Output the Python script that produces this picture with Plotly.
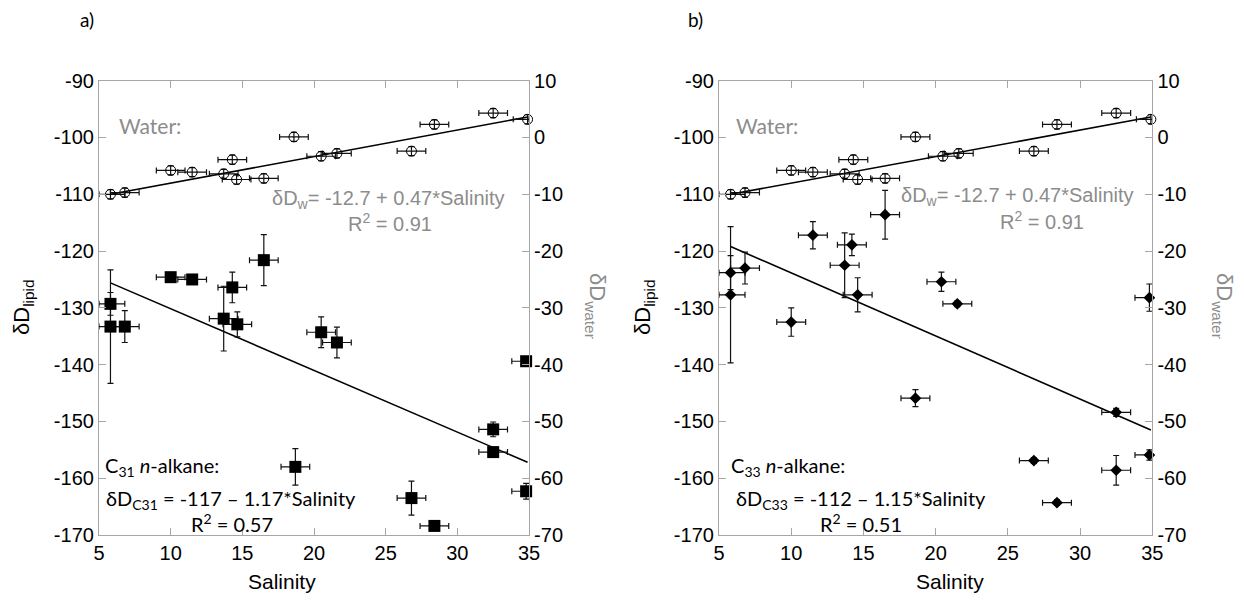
import plotly.graph_objects as go

# ---------------- data ----------------
# water samples (shared by both panels), right axis (dD water)
water_sal = [5.8, 6.8, 10.0, 11.5, 13.7, 14.3, 14.6, 16.5, 18.6, 20.5, 21.6, 26.8, 28.4, 32.5, 34.9]
water_dd = [-10.0, -9.7, -5.8, -6.1, -6.4, -3.9, -7.4, -7.2, 0.1, -3.3, -2.8, -2.4, 2.3, 4.3, 3.2]
water_err = [0.8] * 15
sal_err = 1.0

# water regression line endpoints (dD water)
water_fit_sal = [5.8, 34.9]
water_fit_dd = [-10.0, 3.6]

# C31 n-alkane (panel a), left axis (dD lipid)
c31_sal = [5.8, 5.8, 6.8, 10.0, 11.5, 13.7, 14.3, 14.65, 16.5, 18.7, 20.5, 21.6, 26.8, 28.4, 32.5, 32.5, 34.8, 34.8]
c31_dd = [-129.3, -133.3, -133.3, -124.6, -125.0, -131.9, -126.4, -132.9, -121.6, -158.0, -134.3, -136.1, -163.5, -168.4, -151.4, -155.4, -139.4, -162.3]
c31_err = [2.0, 10.0, 2.8, 0.5, 0.8, 5.7, 2.7, 2.2, 4.5, 3.2, 2.7, 2.7, 3.0, 0.5, 1.3, 0.8, 0.5, 1.4]
c31_fit_sal = [5.8, 34.9]
c31_fit_dd = [-125.6, -157.2]

# C33 n-alkane (panel b)
c33_sal = [5.8, 5.8, 6.8, 10.0, 11.5, 13.7, 14.2, 14.6, 16.5, 18.6, 20.4, 21.5, 26.8, 28.4, 32.5, 32.5, 34.8, 34.8]
c33_dd = [-123.8, -127.7, -123.0, -132.5, -117.2, -122.5, -118.9, -127.7, -113.6, -145.9, -125.4, -129.3, -156.9, -164.3, -148.4, -158.6, -128.2, -155.9]
c33_err = [3.0, 12.0, 2.8, 2.5, 2.4, 5.7, 1.9, 3.0, 4.3, 1.5, 1.7, 0.5, 0.5, 0.5, 0.7, 2.6, 2.4, 0.9]
c33_fit_sal = [5.8, 34.9]
c33_fit_dd = [-119.2, -151.5]

x_ticks = [5, 10, 15, 20, 25, 30, 35]
lipid_ticks = [-170, -160, -150, -140, -130, -120, -110, -100, -90]
water_ticks = [-70, -60, -50, -40, -30, -20, -10, 0, 10]
x_range = [5, 35]
lipid_range = [-170, -90]
water_range = [-70, 10]

# ---------------- styling ----------------
PAGE_W, PAGE_H = 1244, 606
OFF = 8  # default body margin of the html page
W, H = PAGE_W - 2 * OFF, PAGE_H - 2 * OFF
ARIAL = "Liberation Sans"
CAL = "Lato"
GRAY_TXT = "#8c8c8c"
AXIS_GRAY = "#a6a6a6"


def px(x):
    return (x - OFF) / W


def py(y):
    return 1 - (y - OFF) / H


def xerr_clipped(sal):
    # salinity error bars are cut at the frame, while markers are not
    plus = [min(sal_err, x_range[1] - s) for s in sal]
    minus = [min(sal_err, s - x_range[0]) for s in sal]
    return plus, minus


fig = go.Figure()

err_style = dict(color="#111111", thickness=1.2, width=3)


def add_points(sal, dd, derr, marker, xa, ya):
    plus, minus = xerr_clipped(sal)
    fig.add_trace(go.Scatter(x=sal, y=dd, mode="markers", marker=marker, cliponaxis=False,
                             error_x=dict(type="data", array=plus, arrayminus=minus,
                                          symmetric=False, **err_style),
                             error_y=dict(type="data", array=derr, **err_style),
                             xaxis=xa, yaxis=ya, showlegend=False))


def add_panel(xa, ya, yw, sal, dd, derr, fit_sal, fit_dd, symbol, msize):
    fig.add_trace(go.Scatter(x=water_fit_sal, y=water_fit_dd, mode="lines",
                             line=dict(color="black", width=1.6),
                             xaxis=xa, yaxis=yw, showlegend=False, hoverinfo="skip"))
    add_points(water_sal, water_dd, water_err,
               dict(symbol="circle-open", size=10, color="black", line=dict(width=1)), xa, yw)
    fig.add_trace(go.Scatter(x=fit_sal, y=fit_dd, mode="lines",
                             line=dict(color="black", width=1.6),
                             xaxis=xa, yaxis=ya, showlegend=False, hoverinfo="skip"))
    add_points(sal, dd, derr, dict(symbol=symbol, size=msize, color="black"), xa, ya)


add_panel("x", "y", "y2", c31_sal, c31_dd, c31_err, c31_fit_sal, c31_fit_dd, "square", 12)
add_panel("x2", "y3", "y4", c33_sal, c33_dd, c33_err, c33_fit_sal, c33_fit_dd, "diamond", 9)

tick_font = dict(family=ARIAL, size=20, color="black")
common_axis = dict(showgrid=False, zeroline=False, showline=True, linecolor=AXIS_GRAY,
                   linewidth=1.2, ticks="inside", ticklen=7, tickcolor=AXIS_GRAY,
                   tickwidth=1, tickfont=tick_font, automargin=False)

lipid_text = [str(v) for v in lipid_ticks]
water_text = [str(v) for v in water_ticks]
x_text = [str(v) for v in x_ticks]

ydom = [py(535), py(80.7)]
xdom_a = [px(99), px(529)]
xdom_b = [px(719), px(1152.3)]

xa_cfg = dict(range=x_range, tickvals=x_ticks, ticktext=x_text, mirror="ticks", **common_axis)
yl_cfg = dict(domain=ydom, range=lipid_range, tickvals=lipid_ticks, ticktext=lipid_text, **common_axis)
yw_cfg = dict(range=water_range, tickvals=water_ticks, ticktext=water_text, side="right", **common_axis)

fig.update_layout(
    template="none",
    width=W, height=H,
    margin=dict(l=0, r=0, t=0, b=0, autoexpand=False),
    paper_bgcolor="white", plot_bgcolor="white",
    showlegend=False,
    xaxis=dict(domain=xdom_a, anchor="y", **xa_cfg),
    yaxis=dict(anchor="x", **yl_cfg),
    yaxis2=dict(overlaying="y", anchor="x", **yw_cfg),
    xaxis2=dict(domain=xdom_b, anchor="y3", **xa_cfg),
    yaxis3=dict(anchor="x2", **yl_cfg),
    yaxis4=dict(overlaying="y3", anchor="x2", **yw_cfg),
)

annos = []


def note(text, x, y, family=ARIAL, size=20, color="black", xanchor="left", angle=0):
    annos.append(dict(text=text, x=px(x), y=py(y), xref="paper", yref="paper",
                      xanchor=xanchor, yanchor="middle", showarrow=False, textangle=angle,
                      font=dict(family=family, size=size, color=color)))


# panel a
note("a)", 87, 19, family=CAL, size=19, xanchor="center")
note("Water:", 117, 126, family=CAL, size=21, color=GRAY_TXT)
note("δD<sub>w</sub>= -12.7 + 0.47*Salinity", 270, 199, color=GRAY_TXT)
note("R<sup>2</sup> = 0.91", 390, 222, color=GRAY_TXT, xanchor="center")
note("C<sub>31</sub> <i>n</i>-alkane:", 103, 466, family=CAL, size=20)
note("δD<sub>C31</sub> = -117 – 1.17*Salinity", 104, 499, family=CAL, size=20)
note("R<sup>2</sup> = 0.57", 232, 523, family=CAL, size=20, xanchor="center")
note("δD<sub>lipid</sub>", 23, 307, size=22, xanchor="center", angle=-90)
note("δD<sub>water</sub>", 596, 306, size=22, color=GRAY_TXT, xanchor="center", angle=90)
note("Salinity", 282, 581, size=21, xanchor="center")

# panel b
note("b)", 695, 19, family=CAL, size=19, xanchor="center")
note("Water:", 734, 126, family=CAL, size=21, color=GRAY_TXT)
note("δD<sub>w</sub>= -12.7 + 0.47*Salinity", 899, 197, color=GRAY_TXT)
note("R<sup>2</sup> = 0.91", 1042, 220, color=GRAY_TXT, xanchor="center")
note("C<sub>33</sub> <i>n</i>-alkane:", 729, 466, family=CAL, size=20)
note("δD<sub>C33</sub> = -112 – 1.15*Salinity", 734, 499, family=CAL, size=20)
note("R<sup>2</sup> = 0.51", 861, 523, family=CAL, size=20, xanchor="center")
note("δD<sub>lipid</sub>", 644, 307, size=22, xanchor="center", angle=-90)
note("δD<sub>water</sub>", 1223, 306, size=22, color=GRAY_TXT, xanchor="center", angle=90)
note("Salinity", 950, 581, size=21, xanchor="center")

fig.update_layout(annotations=annos)

fig.write_html("out.html")
